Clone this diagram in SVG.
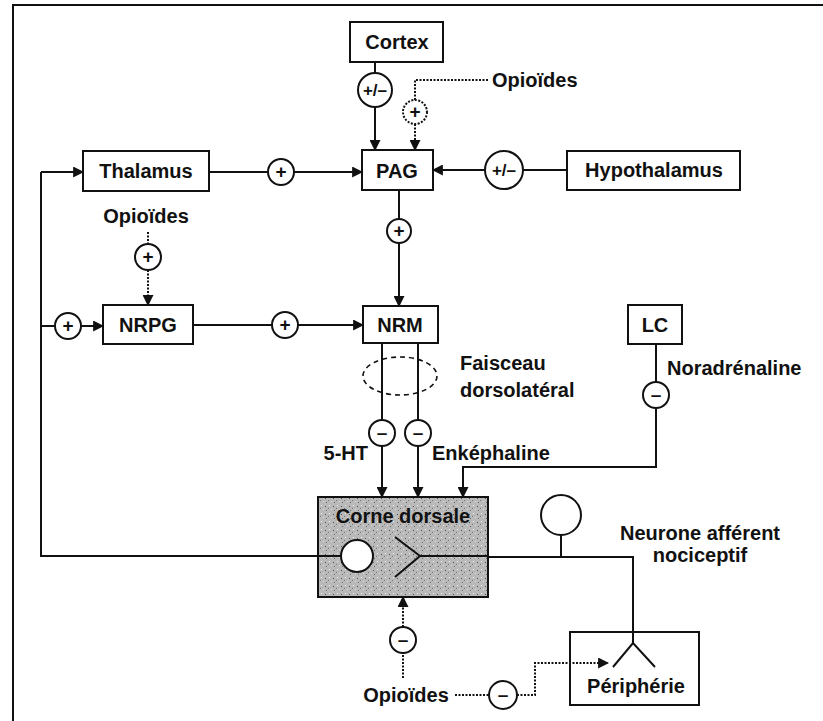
<svg xmlns="http://www.w3.org/2000/svg" width="823" height="721" viewBox="0 0 823 721">
<defs>
<style>
.box{fill:#fff;stroke:#111;stroke-width:2}
.t{font-family:"Liberation Sans",Arial,sans-serif;font-weight:bold;font-size:20px;fill:#111}
.c{text-anchor:middle}
.sym{font-family:"Liberation Sans",Arial,sans-serif;font-weight:bold;font-size:19px;fill:#111;text-anchor:middle}
.pm{font-family:"Liberation Sans",Arial,sans-serif;font-weight:bold;font-size:17px;fill:#111;text-anchor:middle}
.ln{fill:none;stroke:#111;stroke-width:2}
.dot{fill:none;stroke:#111;stroke-width:2;stroke-dasharray:2 1.5}
.circ{fill:#fff;stroke:#111;stroke-width:2}
.arr{marker-end:url(#ah)}
</style>
<marker id="ah" viewBox="0 0 10 10" refX="9" refY="5" markerWidth="11" markerHeight="11" markerUnits="userSpaceOnUse" orient="auto">
<path d="M0,0 L10,5 L0,10 Z" fill="#111"/>
</marker>
<pattern id="speck" width="8" height="8" patternUnits="userSpaceOnUse">
<rect width="8" height="8" fill="#b9b9b9"/>
<rect x="1" y="1" width="1" height="1" fill="#eee"/>
<rect x="5" y="2" width="1" height="1" fill="#555"/>
<rect x="3" y="5" width="1" height="1" fill="#ddd"/>
<rect x="6" y="6" width="1" height="1" fill="#666"/>
<rect x="0" y="4" width="1" height="1" fill="#777"/>
</pattern>
</defs>
<rect width="823" height="721" fill="#fff"/>
<g id="frame">
<line x1="12" y1="5" x2="823" y2="5" stroke="#111" stroke-width="2"/>
<line x1="13" y1="5" x2="13" y2="721" stroke="#111" stroke-width="2"/>
</g>

<g id="connectors">
<line class="ln" x1="375" y1="62" x2="375" y2="73"/>
<line class="ln arr" x1="375" y1="107" x2="375" y2="150"/>
<polyline class="dot" points="488,80 415,80 415,100"/>
<line class="dot arr" x1="415" y1="124" x2="415" y2="150"/>
<line class="ln" x1="209" y1="172" x2="268" y2="172"/>
<line class="ln arr" x1="294" y1="172" x2="362" y2="172"/>
<line class="ln" x1="567" y1="170" x2="523" y2="170"/>
<line class="ln arr" x1="485" y1="170" x2="433" y2="170"/>
<line class="ln" x1="399" y1="190" x2="399" y2="219"/>
<line class="ln arr" x1="399" y1="243" x2="399" y2="306"/>
<line class="dot" x1="148" y1="232" x2="148" y2="244"/>
<line class="dot arr" x1="148" y1="270" x2="148" y2="305"/>
<polyline class="ln" points="318,556 41,556 41,172"/>
<line class="ln arr" x1="41" y1="172" x2="83" y2="172"/>
<line class="ln" x1="41" y1="326" x2="55" y2="326"/>
<line class="ln arr" x1="81" y1="326" x2="103" y2="326"/>
<line class="ln" x1="193" y1="325" x2="272" y2="325"/>
<line class="ln arr" x1="298" y1="325" x2="363" y2="325"/>
<line class="ln" x1="382" y1="343" x2="382" y2="420"/>
<line class="ln arr" x1="382" y1="446" x2="382" y2="497"/>
<line class="ln" x1="418" y1="343" x2="418" y2="420"/>
<line class="ln arr" x1="418" y1="446" x2="418" y2="497"/>
<line class="ln" x1="656" y1="344" x2="656" y2="382"/>
<polyline class="ln arr" points="656,408 656,467 463,467 463,497"/>
<line class="dot" x1="403" y1="678" x2="403" y2="653"/>
<line class="dot arr" x1="403" y1="627" x2="403" y2="597"/>
<line class="dot" x1="455" y1="695" x2="489" y2="695"/>
<polyline class="dot arr" points="517,695 535,695 535,663 608,663"/>
<ellipse cx="400" cy="376" rx="37" ry="19" fill="none" stroke="#111" stroke-width="1.6" stroke-dasharray="5 4"/>
</g>

<g id="cortex">
<rect class="box" x="350" y="22" width="93" height="40"/>
<text class="t c" x="397" y="49">Cortex</text>
</g>
<g id="opioides-pag">
<text class="t" x="492" y="87">Opioïdes</text>
<circle class="circ" cx="415" cy="112" r="12" stroke-dasharray="2 1.5"/>
<text class="sym" x="415" y="118">+</text>
</g>
<g id="circle-cortex">
<circle class="circ" cx="375" cy="90" r="17"/>
<text class="pm" x="375" y="96">+/–</text>
</g>
<g id="thalamus">
<rect class="box" x="83" y="151" width="126" height="40"/>
<text class="t c" x="146" y="178">Thalamus</text>
</g>
<g id="circle-thal">
<circle class="circ" cx="281" cy="172" r="13"/>
<text class="sym" x="281" y="178">+</text>
</g>
<g id="pag">
<rect class="box" x="362" y="150" width="71" height="40"/>
<text class="t c" x="397" y="178">PAG</text>
</g>
<g id="circle-hypo">
<circle class="circ" cx="504" cy="170" r="19"/>
<text class="pm" x="504" y="176" font-size="18">+/–</text>
</g>
<g id="hypothalamus">
<rect class="box" x="567" y="151" width="173" height="39"/>
<text class="t c" x="654" y="177">Hypothalamus</text>
</g>
<g id="circle-pag-nrm">
<circle class="circ" cx="399" cy="231" r="12"/>
<text class="sym" x="399" y="237">+</text>
</g>
<g id="opioides-nrpg">
<text class="t c" x="146" y="223">Opioïdes</text>
<circle class="circ" cx="148" cy="257" r="13"/>
<text class="sym" x="148" y="263">+</text>
</g>
<g id="circle-loop">
<circle class="circ" cx="68" cy="326" r="13"/>
<text class="sym" x="68" y="332">+</text>
</g>
<g id="nrpg">
<rect class="box" x="103" y="305" width="90" height="39"/>
<text class="t c" x="148" y="332">NRPG</text>
</g>
<g id="circle-nrpg-nrm">
<circle class="circ" cx="285" cy="325" r="13"/>
<text class="sym" x="285" y="331">+</text>
</g>
<g id="nrm">
<rect class="box" x="363" y="306" width="75" height="37"/>
<text class="t c" x="400" y="332">NRM</text>
</g>
<g id="faisceau">
<text class="t" x="460" y="370">Faisceau</text>
<text class="t" x="460" y="397">dorsolatéral</text>
</g>
<g id="lc">
<rect class="box" x="628" y="305" width="54" height="39"/>
<text class="t c" x="655" y="332">LC</text>
<text class="t" x="667" y="375">Noradrénaline</text>
<circle class="circ" cx="656" cy="395" r="13"/>
<text class="sym" x="656" y="401">–</text>
</g>
<g id="circle-5ht">
<circle class="circ" cx="382" cy="433" r="13"/>
<text class="sym" x="382" y="439">–</text>
<text class="t" x="368" y="460" text-anchor="end">5-HT</text>
</g>
<g id="circle-enk">
<circle class="circ" cx="418" cy="433" r="13"/>
<text class="sym" x="418" y="439">–</text>
<text class="t" x="432" y="460">Enképhaline</text>
</g>
<g id="corne-dorsale">
<rect x="318" y="497" width="170" height="100" fill="url(#speck)" stroke="#111" stroke-width="2"/>
<text class="t c" x="403" y="523" font-size="21">Corne dorsale</text>
<line class="ln" x1="318" y1="556" x2="341" y2="556"/>
<circle cx="357" cy="556" r="16" fill="#fff" stroke="#111" stroke-width="2"/>
<polyline class="ln" points="395,537 420,556 395,577"/>
<line class="ln" x1="420" y1="556" x2="488" y2="556"/>
</g>
<g id="neurone">
<polyline class="ln" points="488,557 633,557 633,643"/>
<polyline class="ln" points="613,667 633,643 655,667"/>
<line class="ln" x1="561" y1="535" x2="561" y2="557"/>
<circle class="circ" cx="561" cy="515" r="20"/>
<text class="t c" x="700" y="540">Neurone afférent</text>
<text class="t c" x="700" y="562">nociceptif</text>
</g>
<g id="circle-corne-opio">
<circle class="circ" cx="403" cy="640" r="13"/>
<text class="sym" x="403" y="646">–</text>
</g>
<g id="opioides-bottom">
<text class="t c" x="406" y="702">Opioïdes</text>
<circle class="circ" cx="503" cy="695" r="14"/>
<text class="sym" x="503" y="701">–</text>
</g>
<g id="peripherie">
<rect x="570" y="632" width="129" height="73" fill="none" stroke="#111" stroke-width="2"/>
<text class="t c" x="636" y="693">Périphérie</text>
</g>
</svg>
